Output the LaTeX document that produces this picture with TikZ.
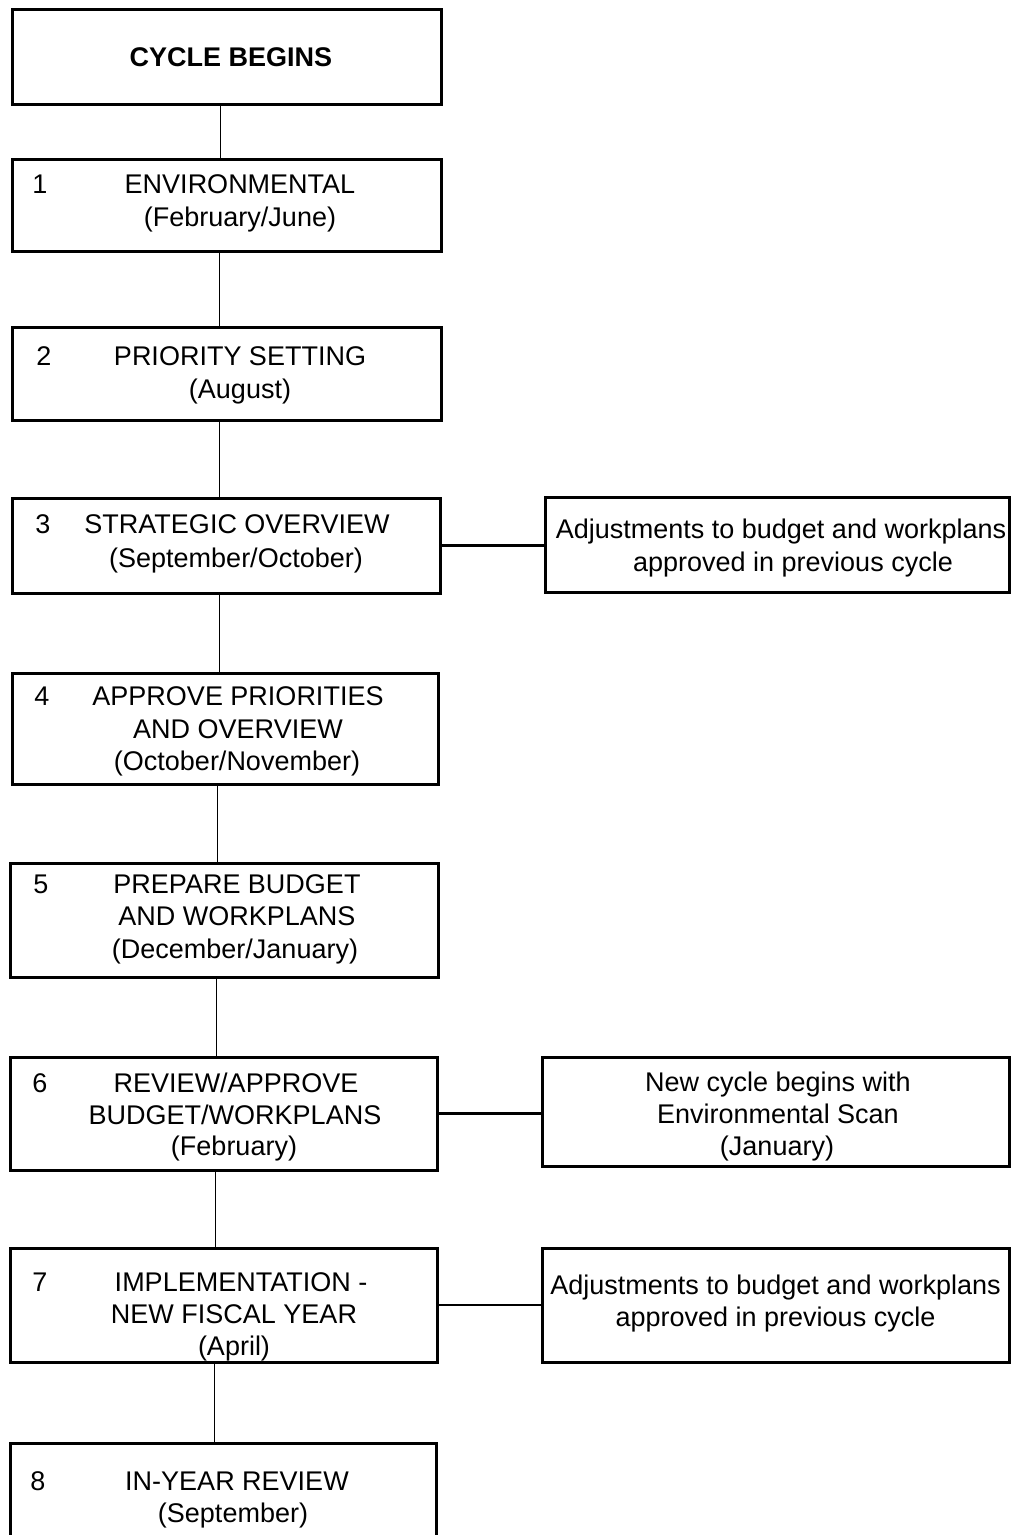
\documentclass[tikz,border=0pt]{standalone}
\usepackage{fontspec}
\setmainfont{Liberation Sans}
\begin{document}
\begin{tikzpicture}[x=1pt,y=-1pt,
  box/.style={draw, line width=3pt, inner sep=0pt, rectangle},
  txt/.style={font=\fontsize{27}{32}\selectfont, inner sep=0pt, anchor=base},
  vline/.style={line width=1pt},
  hline/.style={line width=2.8pt}]
\useasboundingbox (0,0) rectangle (1011,1535);
\clip (0,0) rectangle (1011,1535);
\fill[white] (0,0) rectangle (1011,1535);

% boxes
\node[box, minimum width=429pt, minimum height=95pt] (top) at (226.5,56.5) {};
\node[box, minimum width=429pt, minimum height=92pt] (b1) at (226.5,205) {};
\node[box, minimum width=429pt, minimum height=93pt] (b2) at (226.5,373.5) {};
\node[box, minimum width=428pt, minimum height=95pt] (b3) at (226,545.5) {};
\node[box, minimum width=464pt, minimum height=95pt] (r3) at (777,544.5) {};
\node[box, minimum width=426pt, minimum height=111pt] (b4) at (225,728.5) {};
\node[box, minimum width=428pt, minimum height=114pt] (b5) at (224,920) {};
\node[box, minimum width=427pt, minimum height=113pt] (b6) at (223.5,1113.5) {};
\node[box, minimum width=467pt, minimum height=109pt] (r6) at (775.5,1111.5) {};
\node[box, minimum width=427pt, minimum height=114pt] (b7) at (223.5,1305) {};
\node[box, minimum width=467pt, minimum height=114pt] (r7) at (775.5,1305) {};
\node[box, minimum width=426pt, minimum height=114pt] (b8) at (223,1500) {};

% texts
\node[txt] (t0) at (231,66) {\bfseries CYCLE BEGINS};

\node[txt] (n1) at (40,193) {1};
\node[txt] (t1a) at (240,193) {ENVIRONMENTAL};
\node[txt] (t1b) at (240,226) {(February/June)};

\node[txt] (n2) at (44,365) {2};
\node[txt] (t2a) at (240,365) {PRIORITY SETTING};
\node[txt] (t2b) at (240,398) {(August)};

\node[txt] (n3) at (43,533) {3};
\node[txt] (t3a) at (237,533) {STRATEGIC OVERVIEW};
\node[txt] (t3b) at (236,567) {(September/October)};
\node[txt] (s3a) at (781,538) {Adjustments to budget and workplans};
\node[txt] (s3b) at (793,571) {approved in previous cycle};

\node[txt] (n4) at (42,705) {4};
\node[txt] (t4a) at (238,705) {APPROVE PRIORITIES};
\node[txt] (t4b) at (238,738) {AND OVERVIEW};
\node[txt] (t4c) at (237,770) {(October/November)};

\node[txt] (n5) at (41,893) {5};
\node[txt] (t5a) at (237,893) {PREPARE BUDGET};
\node[txt] (t5b) at (237,925) {AND WORKPLANS};
\node[txt] (t5c) at (235,958) {(December/January)};

\node[txt] (n6) at (40,1092) {6};
\node[txt] (t6a) at (236,1092) {REVIEW/APPROVE};
\node[txt] (t6b) at (235,1124) {BUDGET/WORKPLANS};
\node[txt] (t6c) at (234,1155) {(February)};
\node[txt] (s6a) at (778,1091) {New cycle begins with};
\node[txt] (s6b) at (778,1123) {Environmental Scan};
\node[txt] (s6c) at (777,1155) {(January)};

\node[txt] (n7) at (40,1291) {7};
\node[txt] (t7a) at (241,1291) {IMPLEMENTATION -};
\node[txt] (t7b) at (234,1323) {NEW FISCAL YEAR};
\node[txt] (t7c) at (234,1355) {(April)};
\node[txt] (s7a) at (775.5,1294) {Adjustments to budget and workplans};
\node[txt] (s7b) at (775.5,1326) {approved in previous cycle};

\node[txt] (n8) at (38,1490) {8};
\node[txt] (t8a) at (237,1490) {IN-YEAR REVIEW};
\node[txt] (t8b) at (233,1522) {(September)};

% spine x positions
\coordinate (x0) at (220,0);
\coordinate (x1) at (219,0);
\coordinate (x4) at (217,0);
\coordinate (x5) at (216,0);
\coordinate (x6) at (215,0);
\coordinate (x7) at (214,0);

% vertical connectors
\draw[vline] (top.south -| x0) -- (b1.north -| x0);
\draw[vline] (b1.south -| x1) -- (b2.north -| x1);
\draw[vline] (b2.south -| x1) -- (b3.north -| x1);
\draw[vline] (b3.south -| x1) -- (b4.north -| x1);
\draw[vline] (b4.south -| x4) -- (b5.north -| x4);
\draw[vline] (b5.south -| x5) -- (b6.north -| x5);
\draw[vline] (b6.south -| x6) -- (b7.north -| x6);
\draw[vline] (b7.south -| x7) -- (b8.north -| x7);

% horizontal connectors
\draw[hline] (b3.east) -- (b3.east -| r3.west);
\draw[hline] (b6.east) -- (b6.east -| r6.west);
\draw[hline] (b7.east) -- (r7.west);
\end{tikzpicture}
\end{document}
